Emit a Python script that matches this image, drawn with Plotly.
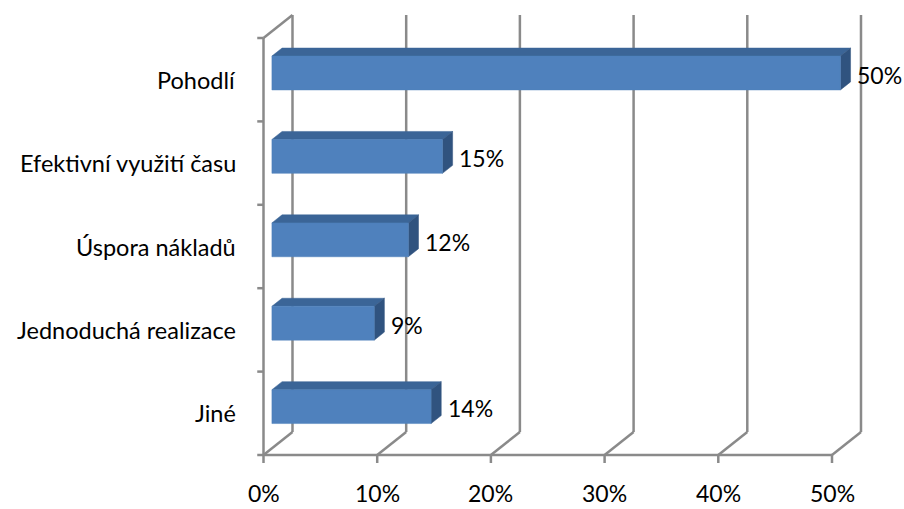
import plotly.graph_objects as go

# ---- data -------------------------------------------------------------
categories = ["Pohodlí", "Efektivní využití času", "Úspora nákladů",
              "Jednoduchá realizace", "Jiné"]
values = [50, 15, 12, 9, 14]
x_ticks = [0, 10, 20, 30, 40, 50]
x_tick_labels = ["0%", "10%", "20%", "30%", "40%", "50%"]

# ---- geometry of the oblique 3-D box (data units) ---------------------
X_MAX = 50
N = len(categories)
DX = 2.55      # depth shift along the value axis (in %)
DY = 0.276     # depth shift along the category axis (in category units)
T_FRONT, T_BACK = 0.29, 0.64   # bar depth span (0 = front, 1 = back wall)
HALF = 0.203   # half bar height

GRID = "#8a8a8a"
FRONT, TOP, SIDE = "#4f81bd", "#3b6597", "#30537f"
FAMILY = "Lato, 'Open Sans', sans-serif"
FONT = dict(family=FAMILY, size=23, color="#000000")
CAT_FONT = dict(family=FAMILY, size=23.5, color="#000000")


def proj(v, c, t):
    return v + t * DX, c + t * DY


fig = go.Figure()

# wall / floor lines
lx, ly = [], []


def seg(p, q):
    lx.extend([p[0], q[0], None])
    ly.extend([p[1], q[1], None])


y0, y1 = -0.5, N - 0.5
for v in x_ticks:
    seg(proj(v, y0, 1), proj(v, y1, 1))          # back wall gridline
    seg(proj(v, y0, 0), proj(v, y0, 1))          # floor diagonal
    seg(proj(v, y0, 0), (v, y0 - 0.096))         # tick mark
seg(proj(0, y0, 0), proj(X_MAX, y0, 0))          # front floor edge
seg(proj(0, y0, 0), proj(0, y1, 0))              # category axis
seg(proj(0, y1, 0), proj(0, y1, 1))              # top of side wall
for k in range(N + 1):
    yb = y0 + k
    seg((0, yb), (-0.55, yb))                     # category tick marks

fig.add_trace(go.Scatter(x=lx, y=ly, mode="lines",
                         line=dict(color=GRID, width=2.5),
                         hoverinfo="skip", showlegend=False))


def face(pts, color):
    xs = [p[0] for p in pts] + [pts[0][0]]
    ys = [p[1] for p in pts] + [pts[0][1]]
    fig.add_trace(go.Scatter(x=xs, y=ys, mode="lines", fill="toself",
                             fillcolor=color, line=dict(color=color, width=0.5),
                             hoverinfo="skip", showlegend=False))


annotations = []
for i, (cat, v) in enumerate(zip(categories, values)):
    c = N - 1 - i
    lo, hi = c - HALF, c + HALF
    # top face
    face([proj(0, hi, T_FRONT), proj(v, hi, T_FRONT),
          proj(v, hi, T_BACK), proj(0, hi, T_BACK)], TOP)
    # end face
    face([proj(v, lo, T_FRONT), proj(v, hi, T_FRONT),
          proj(v, hi, T_BACK), proj(v, lo, T_BACK)], SIDE)
    # front face
    face([proj(0, lo, T_FRONT), proj(v, lo, T_FRONT),
          proj(v, hi, T_FRONT), proj(0, hi, T_FRONT)], FRONT)
    # value label
    lx_, _ = proj(v, c, T_BACK)
    annotations.append(dict(x=lx_ + 0.4, y=c + 0.06, text=f"{v}%",
                            showarrow=False, xanchor="left", yanchor="middle",
                            font=FONT))
    # category label
    annotations.append(dict(x=-2.2, y=c, text=cat, showarrow=False,
                            xanchor="right", yanchor="middle", font=CAT_FONT))

for v, t in zip(x_ticks, x_tick_labels):
    annotations.append(dict(x=v, y=-0.96, text=t, showarrow=False,
                            xanchor="center", yanchor="middle", font=FONT))

PX_X = 11.37   # pixels per % on the value axis
PX_Y = 83.4    # pixels per category band
fig.update_layout(
    width=904, height=509,
    margin=dict(l=0, r=0, t=0, b=0),
    paper_bgcolor="white", plot_bgcolor="white",
    xaxis=dict(range=[-263.5 / PX_X, (904 - 263.5) / PX_X], visible=False,
               fixedrange=True),
    yaxis=dict(range=[y0 - (509 - 455) / PX_Y, y1 + 38 / PX_Y], visible=False,
               fixedrange=True),
    annotations=annotations,
    showlegend=False,
)

fig.write_html("out.html")
